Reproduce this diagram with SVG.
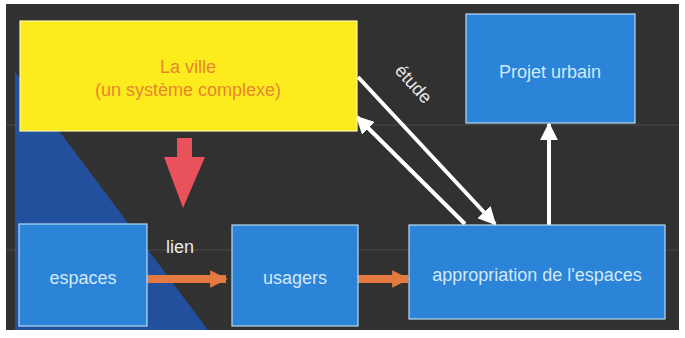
<svg xmlns="http://www.w3.org/2000/svg" width="685" height="338" viewBox="0 0 685 338">
  <style>
    .box { fill: #2b84d8; stroke: #b9d9f2; stroke-width: 1.2; }
    .label { font-family: "Liberation Sans", Arial, sans-serif; font-size: 18px; fill: #d3e8f8; text-anchor: middle; }
    .ville { fill: #e8862e; }
    .plain { fill: #e8e8e8; }
    .wline { stroke: #ffffff; stroke-width: 4; fill: none; }
    .oline { stroke: #e57a40; stroke-width: 8; fill: none; }
  </style>
  <defs>
    <marker id="whiteHead" viewBox="0 0 10 10" refX="9" refY="5" markerWidth="4.5" markerHeight="4.5" markerUnits="strokeWidth" orient="auto">
      <path d="M0,0 L10,5 L0,10 z" fill="#ffffff"/>
    </marker>
    <marker id="orangeHead" viewBox="0 0 10 10" refX="9" refY="5" markerWidth="2.2" markerHeight="2.2" markerUnits="strokeWidth" orient="auto">
      <path d="M0,0 L10,5 L0,10 z" fill="#e57a40"/>
    </marker>
  </defs>

  <!-- page and slide background -->
  <rect x="0" y="0" width="685" height="338" fill="#ffffff"/>
  <rect x="6" y="4" width="673" height="326" fill="#313132"/>
  <polygon points="15,72 15,330 208,330" fill="#22509c"/>
  <line x1="6" y1="125" x2="679" y2="125" stroke="#4a4a4a" stroke-width="1"/>
  <line x1="6" y1="250" x2="679" y2="250" stroke="#4a4a4a" stroke-width="1"/>

  <!-- connectors -->
  <g id="connectors">
    <!-- down arrow from the city box -->
    <polygon points="177,138 192,138 192,157 205,157 183,208 164,157 177,157" fill="#e9525a"/>
    <line class="oline" x1="147" y1="279" x2="226" y2="279" marker-end="url(#orangeHead)"/>
    <line class="oline" x1="358" y1="279" x2="408" y2="279" marker-end="url(#orangeHead)"/>
    <line class="wline" x1="549" y1="225" x2="549" y2="124" marker-end="url(#whiteHead)"/>
    <line class="wline" x1="358" y1="77" x2="495" y2="224" marker-end="url(#whiteHead)"/>
    <line class="wline" x1="465" y1="224" x2="357" y2="117" marker-end="url(#whiteHead)"/>
    <text class="label plain" x="180" y="253">lien</text>
    <text class="label plain" transform="translate(409,88) rotate(48)">étude</text>
  </g>

  <g id="ville">
    <rect x="20" y="21" width="337" height="110" fill="#fcec1e" stroke="#fff7a0" stroke-width="1.2"/>
    <text class="label ville" x="188" y="73">La ville</text>
    <text class="label ville" x="188" y="96">(un système complexe)</text>
  </g>

  <g id="projet">
    <rect class="box" x="466" y="14" width="169" height="109"/>
    <text class="label" x="550" y="78">Projet urbain</text>
  </g>

  <g id="espaces">
    <rect class="box" x="19" y="224" width="128" height="102"/>
    <text class="label" x="83" y="284">espaces</text>
  </g>

  <g id="usagers">
    <rect class="box" x="232" y="225" width="126" height="101"/>
    <text class="label" x="295" y="284">usagers</text>
  </g>

  <g id="appropriation">
    <rect class="box" x="409" y="225" width="256" height="94"/>
    <text class="label" x="537" y="281">appropriation de l'espaces</text>
  </g>
</svg>
